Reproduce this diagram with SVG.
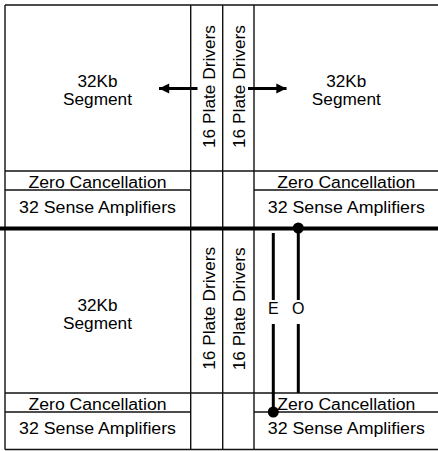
<svg xmlns="http://www.w3.org/2000/svg" width="438" height="451" viewBox="0 0 438 451">
<defs>
<style>
.ln{stroke:#111;stroke-width:1.4;fill:none}
.thick{stroke:#000;stroke-width:4;fill:none}
.wire{stroke:#000;stroke-width:3;fill:none}
.t{font-family:"Liberation Sans",Arial,sans-serif;font-size:16px;fill:#000;text-anchor:middle}
</style>
<marker id="ah" viewBox="0 0 10 10" refX="10" refY="5" markerWidth="5" markerHeight="3.4" orient="auto" markerUnits="strokeWidth">
<path d="M0,0 L10,5 L0,10 Z" fill="#000"/>
</marker>
</defs>
<rect width="438" height="451" fill="#fff"/>

<!-- grid lines -->
<g id="frame">
<line class="ln" x1="5" y1="5" x2="438" y2="5"/>
<line class="ln" x1="5" y1="449.5" x2="438" y2="449.5"/>
<line class="ln" x1="5" y1="5" x2="5" y2="449.5"/>
<line class="ln" x1="190.7" y1="5" x2="190.7" y2="449.5"/>
<line class="ln" x1="222.7" y1="5" x2="222.7" y2="449.5"/>
<line class="ln" x1="254" y1="5" x2="254" y2="449.5"/>
<line class="ln" x1="5" y1="171" x2="438" y2="171"/>
<line class="ln" x1="5" y1="190" x2="190.7" y2="190"/>
<line class="ln" x1="254" y1="190" x2="438" y2="190"/>
<line class="ln" x1="5" y1="393" x2="438" y2="393"/>
<line class="ln" x1="5" y1="412" x2="190.7" y2="412"/>
<line class="ln" x1="254" y1="412" x2="438" y2="412"/>
<line class="thick" x1="0" y1="228.5" x2="438" y2="228.5"/>
</g>

<g id="segment-tl">
<text class="t" x="97.5" y="87" textLength="40" lengthAdjust="spacingAndGlyphs">32Kb</text>
<text class="t" x="97.5" y="105" textLength="69" lengthAdjust="spacingAndGlyphs">Segment</text>
</g>
<g id="segment-tr">
<text class="t" x="346.3" y="87" textLength="40" lengthAdjust="spacingAndGlyphs">32Kb</text>
<text class="t" x="346.3" y="105" textLength="69" lengthAdjust="spacingAndGlyphs">Segment</text>
</g>
<g id="segment-bl">
<text class="t" x="97.5" y="310.5" textLength="40" lengthAdjust="spacingAndGlyphs">32Kb</text>
<text class="t" x="97.5" y="328.5" textLength="69" lengthAdjust="spacingAndGlyphs">Segment</text>
</g>

<g id="zc-tl"><text class="t" x="97.5" y="188" textLength="138" lengthAdjust="spacingAndGlyphs">Zero Cancellation</text></g>
<g id="zc-tr"><text class="t" x="346.3" y="188" textLength="138" lengthAdjust="spacingAndGlyphs">Zero Cancellation</text></g>
<g id="zc-bl"><text class="t" x="97.5" y="409.5" textLength="138" lengthAdjust="spacingAndGlyphs">Zero Cancellation</text></g>
<g id="zc-br"><text class="t" x="346.3" y="409.5" textLength="138" lengthAdjust="spacingAndGlyphs">Zero Cancellation</text></g>

<g id="sa-tl"><text class="t" x="97.5" y="212.5" textLength="157" lengthAdjust="spacingAndGlyphs">32 Sense Amplifiers</text></g>
<g id="sa-tr"><text class="t" x="346.3" y="212.5" textLength="157" lengthAdjust="spacingAndGlyphs">32 Sense Amplifiers</text></g>
<g id="sa-bl"><text class="t" x="97.5" y="434" textLength="157" lengthAdjust="spacingAndGlyphs">32 Sense Amplifiers</text></g>
<g id="sa-br"><text class="t" x="346.3" y="434" textLength="157" lengthAdjust="spacingAndGlyphs">32 Sense Amplifiers</text></g>

<g id="pd-tl"><text class="t" transform="translate(214.5,86.5) rotate(-90)" textLength="123" lengthAdjust="spacingAndGlyphs">16 Plate Drivers</text></g>
<g id="pd-tr"><text class="t" transform="translate(245,86.5) rotate(-90)" textLength="123" lengthAdjust="spacingAndGlyphs">16 Plate Drivers</text></g>
<g id="pd-bl"><text class="t" transform="translate(214.5,308.3) rotate(-90)" textLength="123" lengthAdjust="spacingAndGlyphs">16 Plate Drivers</text></g>
<g id="pd-br"><text class="t" transform="translate(245,308.8) rotate(-90)" textLength="123" lengthAdjust="spacingAndGlyphs">16 Plate Drivers</text></g>

<g id="connectors">
<line class="wire" x1="197.5" y1="88.5" x2="159" y2="88.5" marker-end="url(#ah)"/>
<line class="wire" x1="248" y1="88.5" x2="286.5" y2="88.5" marker-end="url(#ah)"/>
<line class="wire" x1="273.3" y1="233" x2="273.3" y2="300"/>
<line class="wire" x1="273.3" y1="324" x2="273.3" y2="412"/>
<circle cx="273.3" cy="412" r="5.5" fill="#000"/>
<line class="wire" x1="298.3" y1="228" x2="298.3" y2="300"/>
<line class="wire" x1="298.3" y1="324" x2="298.3" y2="393"/>
<circle cx="298.3" cy="228" r="5.5" fill="#000"/>
<text class="t" x="273.3" y="314">E</text>
<text class="t" x="298.3" y="314">O</text>
</g>
</svg>
